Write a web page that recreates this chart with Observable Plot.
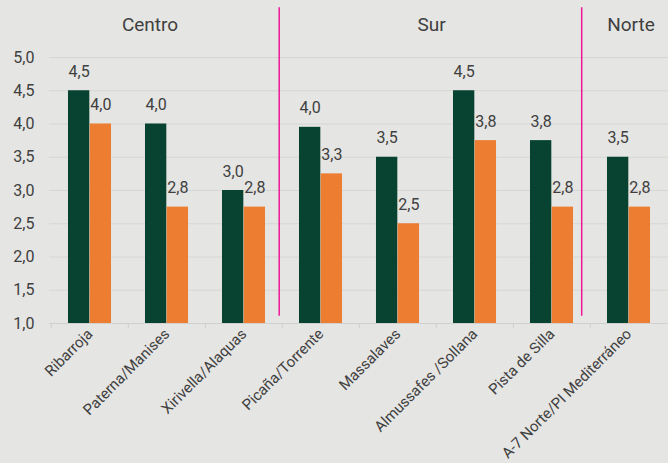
<!DOCTYPE html>
<html>
<head>
<meta charset="utf-8">
<script src="https://cdn.jsdelivr.net/npm/d3@7"></script>
<script src="https://cdn.jsdelivr.net/npm/@observablehq/plot@0.6"></script>
<style>
  html, body { margin: 0; padding: 0; background: #e5e5e3; }
  #chart { width: 668px; height: 463px; }
</style>
</head>
<body>
<div id="chart"></div>
<script>
// ---- Data ----
const categories = [
  "Ribarroja", "Paterna/Manises", "Xirivella/Alaquas", "Picaña/Torrente",
  "Massalaves", "Almussafes /Sollana", "Pista de Silla", "A-7 Norte/PI Mediterráneo"
];
const serieVerde   = [4.5, 4.0, 3.0, 3.95, 3.5, 4.5, 3.75, 3.5];
const serieNaranja = [4.0, 2.75, 2.75, 3.25, 2.5, 3.75, 2.75, 2.75];
const yTicks = [1.0, 1.5, 2.0, 2.5, 3.0, 3.5, 4.0, 4.5, 5.0];
const groups = ["Centro", "Sur", "Norte"];

// ---- Build tables ----
const green = categories.map((c, i) => ({cat: c, value: serieVerde[i]}));
const orange = categories.map((c, i) => ({cat: c, value: serieNaranja[i]}));
const fmt = v => d3.format(".1f")(v).replace(".", ",");

const W = 668, H = 463;
const mL = 49, mR = 0, mT = 57, mB = 140;
const bw = (W - mL - mR) / categories.length;
const barW = 21.7;
const gap = (bw - 2 * barW) / 2;

const textColor = "#404040";
const font = "Roboto, 'Liberation Sans', sans-serif";

const chart = Plot.plot({
  width: W,
  height: H,
  marginLeft: mL,
  marginRight: mR,
  marginTop: mT,
  marginBottom: mB,
  style: {background: "#e5e5e3", fontFamily: font, color: textColor, overflow: "visible"},
  x: {domain: categories, padding: 0, label: null},
  y: {domain: [1, 5], label: null},
  marks: [
    Plot.gridY(yTicks.slice(1), {stroke: "#d6d6d4", strokeOpacity: 1}),
    Plot.ruleY([1], {stroke: "#d0d0ce"}),
    Plot.ruleX(categories, {x: d => d, y1: 1, y2: 0.925, dx: -bw / 2, stroke: "#d0d0ce"}),
    Plot.barY(green, {x: "cat", y1: 1, y2: "value", fill: "#074330", insetLeft: gap, insetRight: gap + barW}),
    Plot.barY(orange, {x: "cat", y1: 1, y2: "value", fill: "#ED7D31", insetLeft: gap + barW, insetRight: gap}),
    Plot.text(green, {x: "cat", y: "value", text: d => fmt(d.value), dx: -barW / 2, dy: -19, fill: textColor, fontSize: 16}),
    Plot.text(orange, {x: "cat", y: "value", text: d => fmt(d.value), dx: barW / 2, dy: -19, fill: textColor, fontSize: 16}),
    Plot.axisY({ticks: yTicks, tickFormat: fmt, tickSize: 0, tickPadding: 15, fontSize: 16, fill: textColor}),
    Plot.axisX({tickSize: 0, tickPadding: 8, tickRotate: -45, fontSize: 15, fill: textColor}),
    // separators
    Plot.ruleX([categories[3]], {x: d => d, y1: 1.11, y2: 5.75, dx: -41.8, stroke: "#f0169a", strokeWidth: 1.5}),
    Plot.ruleX([categories[7]], {x: d => d, y1: 1.11, y2: 5.75, dx: -47.3, stroke: "#f0169a", strokeWidth: 1.5}),
    // group labels
    Plot.text([groups[0]], {x: () => categories[1], y: () => 5.49, text: d => d, dx: -17, fontSize: 19, fill: textColor}),
    Plot.text([groups[1]], {x: () => categories[4], y: () => 5.49, text: d => d, dx: 33.5, fontSize: 19, fill: textColor}),
    Plot.text([groups[2]], {x: () => categories[7], y: () => 5.49, text: d => d, dx: 2, fontSize: 19, fill: textColor})
  ]
});
document.getElementById("chart").appendChild(chart);
</script>
</body>
</html>
